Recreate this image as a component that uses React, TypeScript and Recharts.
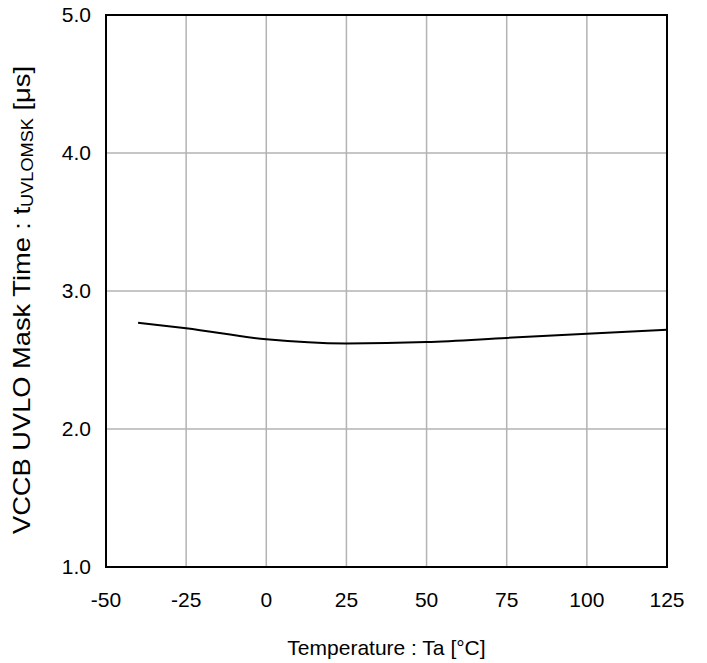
import { CartesianGrid, Label, Line, LineChart, ReferenceArea, XAxis, YAxis } from 'recharts';

const temps = [-40, -25, 0, 25, 50, 75, 100, 125];
const maskTime = [2.77, 2.73, 2.65, 2.62, 2.63, 2.66, 2.69, 2.72];
const xTicks = [-50, -25, 0, 25, 50, 75, 100, 125];
const yTicks = [1, 2, 3, 4, 5];

const data = temps.map((t, i) => ({ temp: t, value: maskTime[i] }));

const font = '"Liberation Sans", Arial, sans-serif';

function YTitle(props: any) {
  const vb = props.viewBox || {};
  const cy = vb.y + vb.height / 2 + 9;
  const cx = 21;
  return (
    <text
      x={cx}
      y={cy}
      transform={`rotate(-90, ${cx}, ${cy})`}
      textAnchor="middle"
      dominantBaseline="central"
      fontFamily={font}
      fontSize={24}
      textLength={468}
      lengthAdjust="spacingAndGlyphs"
      fill="#000"
    >
      VCCB UVLO Mask Time : t
      <tspan fontSize={16} dy={6}>UVLOMSK</tspan>
      <tspan dy={-6}>{'  [μs]'}</tspan>
    </text>
  );
}

export default function App() {
  return (
    <div style={{ position: 'fixed', left: 0, top: 0, width: 707, height: 663, background: '#fff' }}>
      <LineChart width={707} height={663} data={data} margin={{ top: 15, right: 40, bottom: 0, left: 0 }}>
        <CartesianGrid stroke="#b3b3b3" strokeWidth={1.5} />
        <XAxis
          dataKey="temp"
          type="number"
          domain={[-50, 125]}
          ticks={xTicks}
          height={96}
          tickSize={0}
          tickMargin={25}
          axisLine={false}
          tick={{ fill: '#000', fontSize: 21, fontFamily: font }}
        >
          <Label
            value="Temperature : Ta [°C]"
            position="insideBottom"
            offset={8}
            fill="#000"
            fontSize={21}
            fontFamily={font}
          />
        </XAxis>
        <YAxis
          type="number"
          domain={[1, 5]}
          ticks={yTicks}
          width={106}
          tickSize={0}
          tickMargin={15}
          axisLine={false}
          tickFormatter={(v: number) => v.toFixed(1)}
          tick={{ fill: '#000', fontSize: 21, fontFamily: font }}
        >
          <Label content={<YTitle />} />
        </YAxis>
        <ReferenceArea x1={-50} x2={125} y1={1} y2={5} fill="none" stroke="#000" strokeWidth={2} fillOpacity={0} />
        <Line
          type="monotone"
          dataKey="value"
          stroke="#000"
          strokeWidth={2}
          dot={false}
          isAnimationActive={false}
        />
      </LineChart>
    </div>
  );
}
